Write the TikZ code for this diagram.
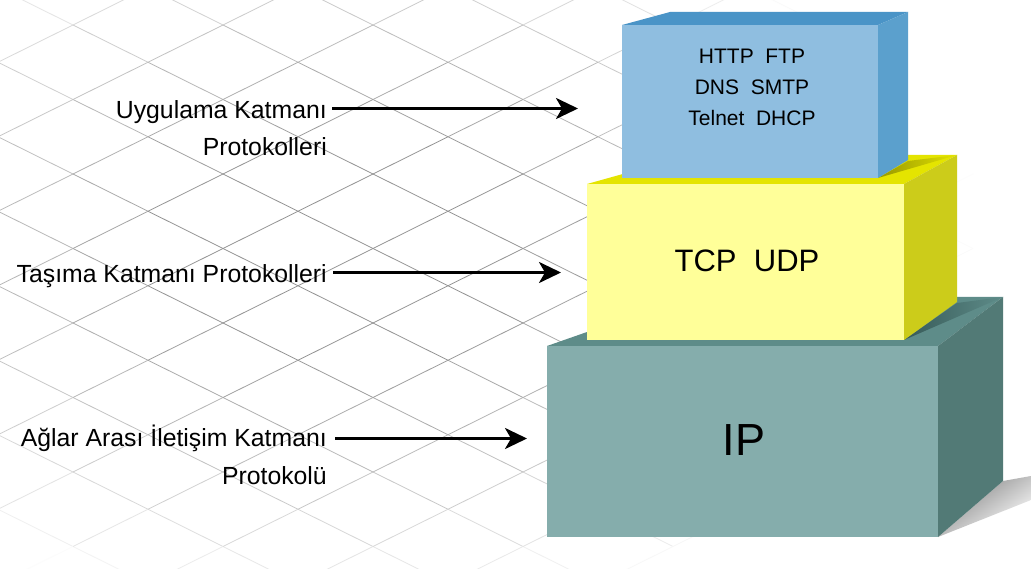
\documentclass[tikz,border=0pt]{standalone}
\usepackage{fontspec}
\setmainfont{Liberation Sans}
\usetikzlibrary{arrows.meta,calc}
\definecolor{bluefront}{RGB}{143,190,224}
\definecolor{bluetop}{RGB}{74,148,199}
\definecolor{blueside}{RGB}{91,160,205}
\definecolor{yelfront}{RGB}{255,255,153}
\definecolor{yeltop}{RGB}{228,228,0}
\definecolor{yelside}{RGB}{204,204,26}
\definecolor{yelshadow}{RGB}{150,150,0}
\definecolor{tealfront}{RGB}{133,173,172}
\definecolor{tealtop}{RGB}{94,140,137}
\definecolor{tealside}{RGB}{82,122,118}
\definecolor{tealshadow}{RGB}{55,90,88}
\tikzset{
  face/.style={inner sep=0pt, outer sep=0pt, draw=none},
  lbl/.style={font=\fontsize{24.8}{30}\selectfont, inner sep=0pt, anchor=base east},
  boxtxt/.style={font=\fontsize{21}{25}\selectfont, inner sep=0pt, anchor=base},
  arrowline/.style={line width=3pt, -{Stealth[length=22pt,width=21pt,inset=6pt]}},
}
\begin{document}
\begin{tikzpicture}[x=1pt,y=-1pt]
\useasboundingbox (0,0) rectangle (1031,569);
\fill[white] (0,0) rectangle (1031,569);
% background lattice
\begin{scope}
\clip (0,0) rectangle (1031,569);
\foreach \i in {-2,...,14}{
  \foreach \j in {-2,...,17}{
    \pgfmathtruncatemacro\parity{mod(\i+\j+100,2)}
    \ifnum\parity=0
      \pgfmathsetmacro\xa{73+75*\i}
      \pgfmathsetmacro\ya{25+37.25*\j}
      \pgfmathsetmacro\xb{\xa+75}
      \pgfmathsetmacro\yb{\ya+37.25}
      \pgfmathsetmacro\yc{\ya-37.25}
      % down-right edge
      \pgfmathsetmacro\mx{(\xa+\xb)/2}
      \pgfmathsetmacro\my{(\ya+\yb)/2}
      \pgfmathsetmacro\dd{sqrt(((\mx-350)/600)*((\mx-350)/600)+((\my-250)/380)*((\my-250)/380))}
      \pgfmathsetmacro\ss{max(0,min(42,42*1.4*(1-\dd)))}
      \draw[line width=0.8pt, black!\ss] (\xa,\ya) -- (\xb,\yb);
      % up-right edge
      \pgfmathsetmacro\my{(\ya+\yc)/2}
      \pgfmathsetmacro\dd{sqrt(((\mx-350)/600)*((\mx-350)/600)+((\my-250)/380)*((\my-250)/380))}
      \pgfmathsetmacro\ss{max(0,min(42,42*1.4*(1-\dd)))}
      \draw[line width=0.8pt, black!\ss] (\xa,\ya) -- (\xb,\yc);
    \fi
  }
}
\end{scope}
% floor shadow
\shade[top color=black!50, bottom color=white, shading angle=35]
  (938,537) -- (1003,481) -- (1031,476) -- (1031,500) -- cycle;
% IP box
\fill[tealtop] (547,346) -- (687,297) -- (1003,297) -- (938,346) -- cycle;
\fill[tealside] (938,346) -- (1003,297) -- (1003,481) -- (938,537) -- cycle;
\node[face, fill=tealfront, minimum width=391pt, minimum height=191pt] (ipbox) at (742.5,441.5) {};
\node[font=\fontsize{45}{54}\selectfont, inner sep=0pt, anchor=base] (ip) at (744,455) {IP};
\shade[left color=tealshadow, right color=tealtop] (904,340) -- (957,303) -- (1003,297) -- cycle;
% TCP/UDP box
\fill[yeltop] (587,184) -- (691,155) -- (957,155) -- (904,184) -- cycle;
\fill[yelside] (904,184) -- (957,155) -- (957,302) -- (904,340) -- cycle;
\node[face, fill=yelfront, minimum width=317pt, minimum height=156pt] (tcpbox) at (745.5,262) {};
\node[font=\fontsize{31}{37}\selectfont, inner sep=0pt, anchor=base] (tcp) at (747,271.7) {TCP\ \ UDP};
\shade[left color=yelshadow, right color=yeltop] (878,178) -- (908,161) -- (957,155) -- cycle;
% application box
\fill[bluetop] (622,25) -- (670,12) -- (908,12) -- (878,25) -- cycle;
\fill[blueside] (878,25) -- (908,12) -- (908,160) -- (878,178) -- cycle;
\node[face, fill=bluefront, minimum width=256pt, minimum height=153pt] (appbox) at (750,101.5) {};
\node[boxtxt] (http) at (752,63.3) {HTTP\ \ FTP};
\node[boxtxt] (dns) at (752,94.5) {DNS\ \ SMTP};
\node[boxtxt] (telnet) at (752,126) {Telnet\ \ DHCP};
% labels
\node[lbl] (l1a) at (327,118.3) {Uygulama Katmanı};
\node[lbl] (l1b) at (327,156) {Protokolleri};
\node[lbl] (l2a) at (327,282.5) {Taşıma Katmanı Protokolleri};
\node[lbl] (l3a) at (327,446.7) {Ağlar Arası İletişim Katmanı};
\node[lbl] (l3b) at (327,484) {Protokolü};
% arrow tips
\coordinate (t1) at (578,108.5);
\coordinate (t2) at (561,272.5);
\coordinate (t3) at (527,438.5);
\draw[arrowline] ($(l1a.east |- t1)+(5,0)$) -- (t1);
\draw[arrowline] ($(l2a.east |- t2)+(6,0)$) -- (t2);
\draw[arrowline] ($(l3a.east |- t3)+(8,0)$) -- (t3);
\end{tikzpicture}
\end{document}
